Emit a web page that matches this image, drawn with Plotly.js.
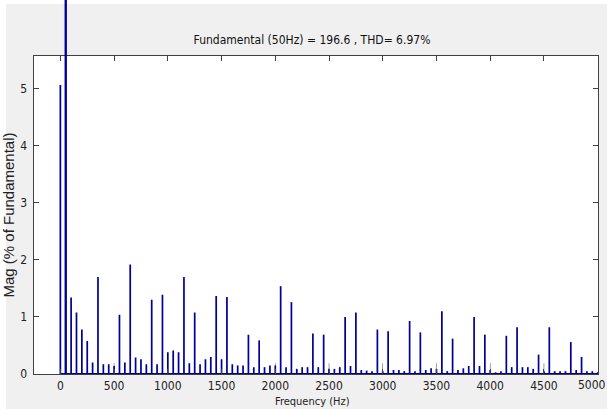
<!DOCTYPE html>
<html><head><meta charset="utf-8">
<script src="https://cdn.plot.ly/plotly-3.0.1.min.js"></script>
<style>html,body{margin:0;padding:0;background:#fff;} #chart{width:607px;height:409px;}</style>
</head><body><div id="chart"></div>
<script>
// Harmonic spectrum (% of fundamental), fundamental excluded
const harmonicFreq = [0,100,150,200,250,300,350,400,450,500,550,600,650,700,750,800,850,900,950,
  1000,1050,1100,1150,1200,1250,1300,1350,1400,1450,1500,1550,1600,1650,1700,1750,1800,1850,1900,1950,
  2000,2050,2100,2150,2200,2250,2300,2350,2400,2450,2500,2550,2600,2650,2700,2750,2800,2850,2900,2950,
  3000,3050,3100,3150,3200,3250,3300,3350,3400,3450,3500,3550,3600,3650,3700,3750,3800,3850,3900,3950,
  4000,4050,4100,4150,4200,4250,4300,4350,4400,4450,4500,4550,4600,4650,4700,4750,4800,4850,4900,4950,5000];
const harmonicMag = [5.07,1.34,1.08,0.78,0.58,0.20,1.70,0.17,0.17,0.14,1.04,0.20,1.92,0.29,0.26,0.17,1.30,0.17,1.39,
  0.38,0.41,0.38,1.70,0.19,1.08,0.17,0.26,0.30,1.37,0.26,1.35,0.17,0.15,0.15,0.69,0.12,0.59,0.12,0.15,
  0.15,1.54,0.12,1.26,0.09,0.12,0.12,0.71,0.12,0.69,0.09,0.09,0.12,1.00,0.14,1.08,0.07,0.06,0.05,0.78,
  0.05,0.75,0.07,0.07,0.05,0.93,0.05,0.73,0.07,0.10,0.09,1.10,0.05,0.62,0.07,0.10,0.14,1.00,0.14,0.69,
  0.07,0.03,0.05,0.67,0.12,0.82,0.12,0.12,0.09,0.34,0.05,0.82,0.05,0.05,0.05,0.56,0.07,0.30,0.05,0.05,0.03];
// Fundamental (100 % of itself)
const fundamentalFreq = [50];
const fundamentalMag = [100];
// thin grey lines visible at some 500 Hz multiples
const markerFreq = [500,2000,2500,3000,3500,4000,4500];
const markerMag = [0.19,0.19,0.19,0.19,0.19,0.19,0.19];
// axis ticks
const xTickVals = [0,500,1000,1500,2000,2500,3000,3500,4000,4500,5000];
const xTickLabels = ['0','500','1000','1500','2000','2500','3000','3500','4000','4500','5000'];
const yTickVals = [0,1,2,3,4,5];
const titleText = 'Fundamental (50Hz) = 196.6 , THD= 6.97%';
const xTitle = 'Frequency (Hz)';
const yTitle = 'Mag (% of Fundamental)';

const blue = '#000096';
const narrow = '"DejaVu Sans Condensed", "Liberation Sans Narrow", Arial, sans-serif';
const axisCol = '#404040';

const xDom = [33.5/607, 598/607];
const yBot = (409-374)/409, yTop = (409-56)/409;
const yMax = 5.577;
const yMax2 = yMax * 374 / 318;
const xRange = [-250, 5003];

// the last tick label sits at the page edge: draw it right-aligned so it stays readable
const nLast = xTickLabels.length - 1;
const axisTickText = xTickLabels.map((t, i) => i === nLast ? '' : t);

const traces = [
  {type:'bar', x: markerFreq, y: markerMag, width: 5, marker:{color:'#555555', line:{width:0}}, xaxis:'x', yaxis:'y'},
  {type:'bar', x: harmonicFreq, y: harmonicMag, width: 16, marker:{color: blue, line:{width:0}}, xaxis:'x', yaxis:'y'},
  {type:'scatter', mode:'lines', x:[Math.min(...harmonicFreq), Math.max(...harmonicFreq)], y:[0,0],
    line:{color: blue, width: 2}, xaxis:'x', yaxis:'y'},
  {type:'bar', x: fundamentalFreq, y: fundamentalMag, width: 22, marker:{color: blue, line:{width:0}}, xaxis:'x2', yaxis:'y2'}
];

const layout = {
  width: 607, height: 409,
  margin: {l:0, r:0, t:0, b:0, pad:0},
  paper_bgcolor: '#f0f0f0',
  plot_bgcolor: 'rgba(0,0,0,0)',
  showlegend: false,
  barmode: 'overlay',
  hovermode: false,
  title: {text: titleText, x: 312/607, xanchor: 'center', y: (409-40)/409, yanchor: 'middle',
    font: {family: narrow, size: 12, color: '#111'}},
  xaxis: {domain: xDom, range: xRange, anchor: 'y', tickmode:'array', tickvals: xTickVals, ticktext: axisTickText,
    ticks:'inside', ticklen: 5, tickcolor: axisCol, showline: true, linecolor: axisCol, linewidth: 1,
    mirror: 'ticks', showgrid: false, zeroline: false, ticklabelstandoff: 1,
    tickfont: {family: narrow, size: 12, color: '#222'}},
  yaxis: {domain: [yBot, yTop], range: [0, yMax], anchor: 'x', tickmode:'array', tickvals: yTickVals,
    ticks:'inside', ticklen: 5, tickcolor: axisCol, showline: true, linecolor: axisCol, linewidth: 1,
    mirror: 'ticks', showgrid: false, zeroline: false, ticklabelstandoff: 3,
    tickfont: {family: narrow, size: 12, color: '#222'},
    title: {text: yTitle, font: {family: '"Liberation Sans", Arial, sans-serif', size: 15, color: '#222'}, standoff: 5}},
  xaxis2: {domain: xDom, range: xRange, anchor: 'y2', visible: false, fixedrange: true},
  yaxis2: {domain: [yBot, 1], range: [0, yMax2], anchor: 'x2', visible: false, fixedrange: true},
  annotations: [
    {text: xTitle, xref: 'paper', yref: 'paper', x: 312/607, xanchor: 'center',
      y: 0, yanchor: 'bottom', showarrow: false, borderpad: 0,
      font: {family: narrow, size: 11, color: '#222'}},
    {text: xTickLabels[nLast], xref: 'paper', yref: 'paper', x: 1, xanchor: 'right',
      y: (409-385)/409, yanchor: 'middle', showarrow: false, borderpad: 0,
      font: {family: narrow, size: 12, color: '#222'}}
  ],
  shapes: [
    {type:'rect', xref:'paper', yref:'paper', x0: xDom[0], x1: xDom[1], y0: yBot, y1: yTop,
      fillcolor:'#ffffff', line:{width:0}, layer:'below'},
    {type:'rect', xref:'paper', yref:'paper', x0: 0, x1: 1, y0: (409-4)/409, y1: 1,
      fillcolor:'#ffffff', line:{width:0}, layer:'below'},
    {type:'rect', xref:'paper', yref:'paper', x0: 0, x1: 6/607, y0: 0, y1: 1,
      fillcolor:'#ffffff', line:{width:0}, layer:'below'}
  ]
};

Plotly.newPlot('chart', traces, layout, {staticPlot: true, displayModeBar: false});
</script>
</body></html>
